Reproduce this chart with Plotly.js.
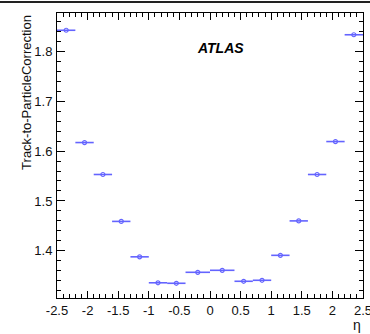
<!DOCTYPE html>
<html>
<head>
<meta charset="utf-8">
<script src="https://cdn.plot.ly/plotly-3.0.1.min.js"></script>
<style>
  html, body { margin: 0; padding: 0; background: #fff; }
  #wrap { position: relative; width: 370px; height: 334px; overflow: hidden; }
  #chart { width: 370px; height: 334px; }
  #topline { position: absolute; left: 0; top: 1px; width: 370px; height: 1.5px; background: #222; }
</style>
</head>
<body>
<div id="wrap">
  <div id="chart"></div>
  <div id="topline"></div>
</div>
<script>
// Bin edges in eta and the track-to-particle correction per bin
const etaLow  = [-2.5, -2.2, -1.9, -1.6, -1.3, -1.0, -0.7, -0.4, 0.0, 0.4, 0.7, 1.0, 1.3, 1.6, 1.9, 2.2];
const etaHigh = [-2.2, -1.9, -1.6, -1.3, -1.0, -0.7, -0.4, 0.0, 0.4, 0.7, 1.0, 1.3, 1.6, 1.9, 2.2, 2.5];
const correction = [1.842, 1.617, 1.553, 1.459, 1.388, 1.336, 1.335, 1.357,
                    1.361, 1.339, 1.341, 1.391, 1.460, 1.553, 1.619, 1.833];

const xTickVals = [-2.5, -2, -1.5, -1, -0.5, 0, 0.5, 1, 1.5, 2, 2.5];
const xTickText = ['-2.5', '-2', '-1.5', '-1', '-0.5', '0', '0.5', '1', '1.5', '2', '2.5'];
const yTickVals = [1.4, 1.5, 1.6, 1.7, 1.8];
const yTickText = ['1.4', '1.5', '1.6', '1.7', '1.8'];

const xCenter = etaLow.map((lo, i) => (lo + etaHigh[i]) / 2);
const xHalf = etaLow.map((lo, i) => (etaHigh[i] - lo) / 2);

const blue = 'rgb(100,100,255)';
const font = 'Liberation Sans, Arial, Helvetica, sans-serif';

const trace = {
  type: 'scatter',
  mode: 'markers',
  x: xCenter,
  y: correction,
  marker: { symbol: 'circle-open', size: 4, color: blue, line: { width: 1.2, color: blue } },
  error_x: { type: 'data', array: xHalf, symmetric: true, width: 0, thickness: 1.6, color: blue },
  hoverinfo: 'x+y',
  showlegend: false
};

const axisCommon = {
  showgrid: false,
  zeroline: false,
  showline: true,
  linecolor: '#000',
  linewidth: 1,
  mirror: 'ticks',
  ticks: 'inside',
  tickcolor: '#000',
  tickwidth: 1,
  ticklabeloverflow: 'allow',
  tickfont: { family: font, size: 13, color: '#111' }
};

const layout = {
  width: 370,
  height: 334,
  margin: { l: 57, r: 7, t: 13, b: 36 },
  paper_bgcolor: '#fff',
  plot_bgcolor: '#fff',
  xaxis: Object.assign({}, axisCommon, {
    range: [-2.5, 2.5],
    tickmode: 'array',
    tickvals: xTickVals,
    ticktext: xTickText,
    ticklen: 7,
    ticklabelstandoff: 0,
    minor: { dtick: 0.1, tick0: 0, ticklen: 4, ticks: 'inside', tickcolor: '#000', tickwidth: 1 }
  }),
  yaxis: Object.assign({}, axisCommon, {
    range: [1.3055, 1.8766],
    tickmode: 'array',
    tickvals: yTickVals,
    ticktext: yTickText,
    ticklen: 8,
    ticklabelstandoff: 1,
    minor: { dtick: 0.02, tick0: 1.3, ticklen: 4, ticks: 'inside', tickcolor: '#000', tickwidth: 1 }
  }),
  annotations: [
    {
      text: '<b><i>ATLAS</i></b>',
      xref: 'paper', yref: 'paper',
      x: 0.45, y: 0.876, xanchor: 'left', yanchor: 'middle',
      showarrow: false,
      font: { family: font, size: 14, color: '#000' }
    },
    {
      text: 'Track-to-ParticleCorrection',
      xref: 'paper', yref: 'paper',
      x: -0.1, y: 1.0, xanchor: 'center', yanchor: 'top',
      textangle: -90,
      showarrow: false,
      font: { family: font, size: 13, color: '#111' }
    },
    {
      text: 'η',
      xref: 'paper', yref: 'paper',
      x: 1.0, y: -0.095, xanchor: 'right', yanchor: 'middle',
      showarrow: false,
      font: { family: font, size: 14, color: '#111' }
    }
  ]
};

Plotly.newPlot('chart', [trace], layout, { displayModeBar: false, staticPlot: true });
</script>
</body>
</html>
